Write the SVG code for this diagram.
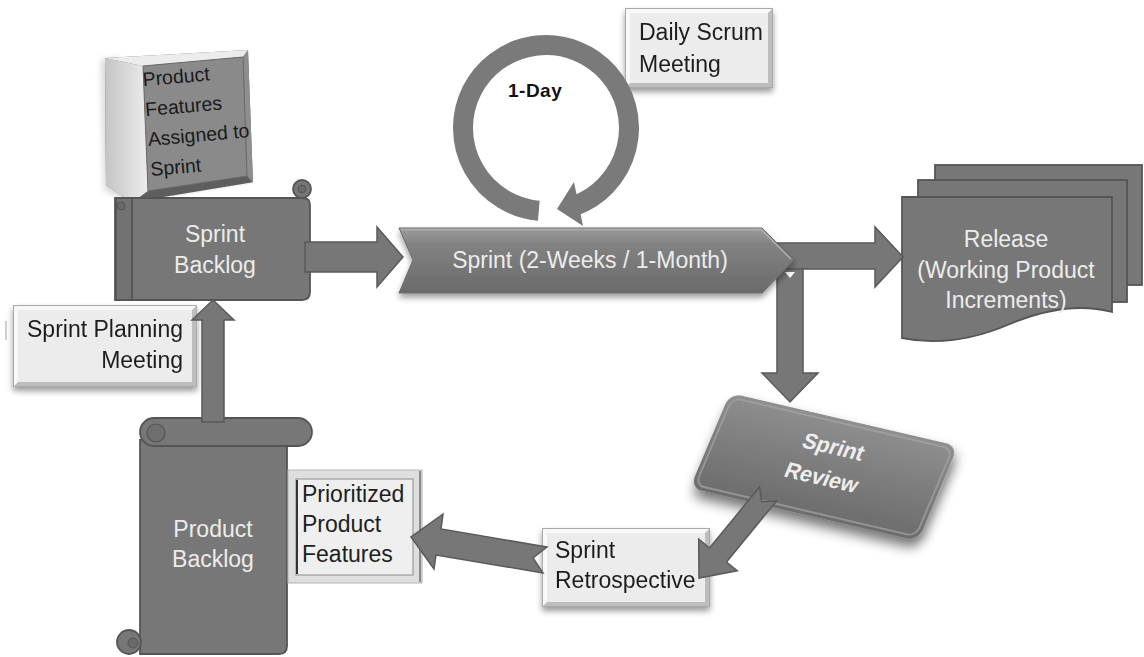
<svg xmlns="http://www.w3.org/2000/svg" width="1144" height="657" viewBox="0 0 1144 657">
<defs>
<style>
.shape{fill:#777777;stroke:#555555;stroke-width:1.8}
.arrow{fill:#777777;stroke:#5a5a5a;stroke-width:1.5;stroke-linejoin:miter}
.t{font-family:"Liberation Sans",Arial,sans-serif;font-size:23px;fill:#1e1e1e}
.w{font-family:"Liberation Sans",Arial,sans-serif;font-size:23px;fill:#ececec}
.bev-dark{fill:#bdbdbd}
.bev-light{fill:#f8f8f8}
.face{fill:#ececec}
.edge{fill:none;stroke:#aaaaaa;stroke-width:1}
</style>
<linearGradient id="chev" x1="0" y1="0" x2="0" y2="1">
<stop offset="0" stop-color="#9c9c9c"/>
<stop offset="0.25" stop-color="#828282"/>
<stop offset="1" stop-color="#6a6a6a"/>
</linearGradient>
<linearGradient id="rev" x1="0" y1="0" x2="0" y2="1">
<stop offset="0" stop-color="#8e8e8e"/>
<stop offset="1" stop-color="#6c6c6c"/>
</linearGradient>
<linearGradient id="leftbev" x1="0" y1="0" x2="1" y2="0">
<stop offset="0" stop-color="#c4c4c4"/>
<stop offset="1" stop-color="#ededed"/>
</linearGradient>
<filter id="soft" x="-20%" y="-30%" width="150%" height="180%">
<feGaussianBlur in="SourceAlpha" stdDeviation="6"/>
<feOffset dx="4" dy="8"/>
<feComponentTransfer><feFuncA type="linear" slope="0.55"/></feComponentTransfer>
<feMerge><feMergeNode/><feMergeNode in="SourceGraphic"/></feMerge>
</filter>
<filter id="shadow2" x="-10%" y="-20%" width="120%" height="160%">
<feGaussianBlur in="SourceAlpha" stdDeviation="3"/>
<feOffset dx="0" dy="4"/>
<feComponentTransfer><feFuncA type="linear" slope="0.4"/></feComponentTransfer>
<feMerge><feMergeNode/><feMergeNode in="SourceGraphic"/></feMerge>
</filter>
<filter id="blurS" x="-50%" y="-50%" width="200%" height="200%"><feGaussianBlur stdDeviation="3"/></filter>
</defs>
<rect width="1144" height="657" fill="#ffffff"/>

<!-- Product Features Assigned to Sprint (3D box) -->
<g id="product-features-assigned">
<polygon points="101,60 120,58 126,200 104,190" fill="#d8d8d8" filter="url(#blurS)"/>
<polygon points="105,58 248,50 253,183 132,203 106,185" fill="#6a6a6a"/>
<polygon points="105,58 143,66 148,191 132,203 106,185" fill="url(#leftbev)"/>
<polygon points="105,58 248,50 243,57 143,66" fill="#ececec"/>
<polygon points="248,50 253,183 247,176 243,57" fill="#8e8e8e"/>
<polygon points="148,191 247,176 253,183 132,203" fill="#5e5e5e"/>
<line x1="132" y1="203" x2="253" y2="183" stroke="#f4f4f4" stroke-width="1.5"/>
<polygon points="143,66 243,57 247,176 148,191" fill="#8a8a8a" stroke="#6a6a6a" stroke-width="1"/>
<g transform="rotate(-5 148 130)" font-family="'Liberation Sans',Arial,sans-serif" font-size="19.5" fill="#1a1a1a">
<text x="147" y="86">Product</text>
<text x="147" y="116">Features</text>
<text x="147" y="146">Assigned to</text>
<text x="147" y="176">Sprint</text>
</g>
</g>

<!-- Sprint Backlog scroll -->
<g id="sprint-backlog">
<circle cx="302" cy="189" r="9" class="shape"/>
<path d="M115,198 H303 Q310,198 310,205 V292 Q310,300 302,300 H115 Z" class="shape"/>
<rect x="116" y="198" width="16" height="102" fill="#727272" stroke="#555555" stroke-width="1.8"/>
<circle cx="121" cy="206" r="4" fill="#6a6a6a" stroke="#555555" stroke-width="1"/>
<circle cx="302" cy="189" r="4" fill="#6a6a6a" stroke="#555555" stroke-width="1"/>
<text class="w" x="215" y="242" text-anchor="middle">Sprint</text>
<text class="w" x="215" y="273" text-anchor="middle">Backlog</text>
</g>

<!-- Product Backlog scroll -->
<g id="product-backlog">
<path d="M140,440 H287 V646 Q287,654 279,654 H140 Z" class="shape"/>
<circle cx="129" cy="642" r="12" class="shape"/>
<circle cx="133" cy="643" r="5" fill="#6a6a6a" stroke="#555555" stroke-width="1"/>
<rect x="140" y="418" width="172" height="28" rx="14" class="shape"/>
<circle cx="156" cy="433" r="9" fill="#6e6e6e" stroke="#555555" stroke-width="1.2"/>
<text class="w" x="213" y="537" text-anchor="middle" font-size="24">Product</text>
<text class="w" x="213" y="567" text-anchor="middle" font-size="24">Backlog</text>
</g>

<!-- Sprint Planning Meeting -->
<g id="sprint-planning-meeting" filter="url(#shadow2)">
<rect x="13" y="305" width="184" height="82" class="bev-dark"/>
<polygon points="13,305 197,305 192,310 18,310 18,382 13,387" class="bev-light"/>
<rect x="18" y="310" width="174" height="72" class="face"/>
<rect x="13.5" y="305.5" width="183" height="81" class="edge"/>
<text class="t" x="183" y="337" text-anchor="end">Sprint Planning</text>
<text class="t" x="183" y="368" text-anchor="end">Meeting</text>
</g>
<rect x="5" y="321" width="2" height="19" fill="#cfcfcf"/>

<!-- Daily Scrum Meeting -->
<g id="daily-scrum-meeting" filter="url(#shadow2)">
<rect x="625" y="8" width="148" height="80" class="bev-dark"/>
<polygon points="625,8 773,8 768,13 630,13 630,83 625,88" class="bev-light"/>
<rect x="630" y="13" width="138" height="70" class="face"/>
<rect x="625.5" y="8.5" width="147" height="79" class="edge"/>
<text class="t" x="639" y="40">Daily Scrum</text>
<text class="t" x="639" y="72">Meeting</text>
</g>

<!-- Prioritized Product Features -->
<g id="prioritized-product-features">
<rect x="288" y="470" width="134" height="113" fill="#dedede" stroke="#b4b4b4" stroke-width="1"/>
<rect x="296" y="479" width="117" height="96" fill="#efefef" stroke="#9a9a9a" stroke-width="1.2"/>
<line x1="297" y1="480" x2="297" y2="574" stroke="#333333" stroke-width="2"/>
<line x1="420" y1="471" x2="420" y2="582" stroke="#8a8a8a" stroke-width="2"/>
<text class="t" x="302" y="502">Prioritized</text>
<text class="t" x="302" y="532">Product</text>
<text class="t" x="302" y="562">Features</text>
</g>

<!-- Sprint Retrospective -->
<g id="sprint-retrospective" filter="url(#shadow2)">
<rect x="542" y="528" width="168" height="79" class="bev-dark"/>
<polygon points="542,528 710,528 705,533 547,533 547,602 542,607" class="bev-light"/>
<rect x="547" y="533" width="158" height="69" class="face"/>
<rect x="542.5" y="528.5" width="167" height="78" class="edge"/>
<text class="t" x="555" y="558">Sprint</text>
<text class="t" x="555" y="588">Retrospective</text>
</g>

<!-- Release (Working Product Increments) -->
<g id="release">
<rect x="935" y="165" width="207" height="120" class="shape"/>
<rect x="918" y="180" width="209" height="122" class="shape"/>
<path d="M902,197 H1112 V312 C1082,304 1048,308 1010,324 C975,339 940,346 902,338 Z" class="shape"/>
<text class="w" x="1006" y="247" text-anchor="middle">Release</text>
<text class="w" x="1006" y="278" text-anchor="middle">(Working Product</text>
<text class="w" x="1006" y="308" text-anchor="middle">Increments)</text>
</g>

<!-- Sprint Review -->
<g id="sprint-review">
<g transform="matrix(0.95 0.221 -0.4 0.95 730 393)">
<rect x="0" y="0" width="240" height="100" rx="12" fill="url(#rev)" filter="url(#soft)"/>
<rect x="4" y="4" width="232" height="92" rx="9" fill="none" stroke="#a4a4a4" stroke-width="2" opacity="0.7"/>
<text x="121" y="36" text-anchor="middle" font-family="'Liberation Sans',Arial,sans-serif" font-size="22" font-weight="bold" fill="#eeeeee">Sprint</text>
<text x="122" y="68" text-anchor="middle" font-family="'Liberation Sans',Arial,sans-serif" font-size="22" font-weight="bold" fill="#eeeeee">Review</text>
</g>
</g>

<!-- Connectors -->
<g id="connectors">
<path id="c-backlog-sprint" class="arrow" d="M305,242 H377 V227 L403,257 L377,287 V272 H305 Z"/>
<path id="c-product-sprintbacklog" class="arrow" d="M202,422 V320 H192 L213,300 L234,320 H224 V422 Z"/>
<g id="c-daily-loop">
<path d="M538.8,210.7 A83,83 0 1 1 574.4,206" fill="none" stroke="#7a7a7a" stroke-width="20"/>
<polygon points="557,209 574,182 583,226" fill="#7a7a7a"/>
</g>
<path id="c-sprint-review" class="arrow" d="M777,262 H803 V373 H818 L790,402 L762,373 H777 Z"/>
<path id="c-sprint-release" class="arrow" d="M770,243 H875 V227 L903,257 L875,287 V269 H770 Z"/>
<polygon points="785,272 795,272 790,278" fill="#ffffff"/>
<path id="c-review-retro" class="arrow" d="M759.5,487 L709.5,548 L698.7,539.2 L699,578 L737.3,570.8 L726.5,562 L776.5,501 L761.7,501.7 Z"/>
<path id="c-retro-prioritized" class="arrow" d="M547,547 L441,529 L443,514 L411,537 L434,569 L436,555 L543,573 L533,558 Z"/>
<text x="508" y="97" font-family="'Liberation Sans',Arial,sans-serif" font-size="19" font-weight="bold" fill="#111111" letter-spacing="0.5">1-Day</text>
</g>

<!-- Sprint chevron -->
<g id="sprint">
<polygon points="399,228 762,228 794,260 762,293 399,293 413,260" fill="url(#chev)" stroke="#6a6a6a" stroke-width="1" filter="url(#shadow2)"/>
<polyline points="401,229.5 761,229.5 791,259" fill="none" stroke="#b0b0b0" stroke-width="1.5"/>
<text class="w" x="590" y="268" text-anchor="middle" fill="#e4e4e4">Sprint (2-Weeks / 1-Month)</text>
</g>
</svg>
